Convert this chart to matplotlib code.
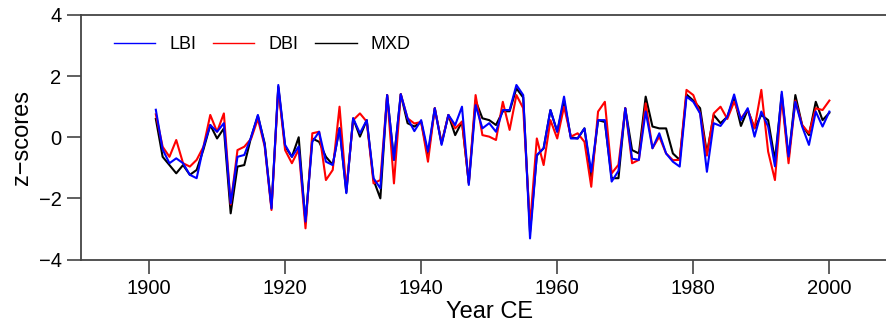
import matplotlib
matplotlib.use("Agg")
import matplotlib.pyplot as plt

plt.rcParams['font.family'] = ['Liberation Sans', 'DejaVu Sans']

years = list(range(1901, 2001))

# LBI (blue)
lbi = [0.90, -0.40, -0.85, -0.69, -0.85, -1.23, -1.34, -0.31, 0.40, 0.18,
       0.46, -2.16, -0.64, -0.58, 0.00, 0.73, -0.25, -2.33, 1.71, -0.25,
       -0.64, -0.30, -2.76, -0.15, 0.18, -0.80, -0.91, 0.29, -1.83, 0.62,
       0.13, 0.56, -1.34, -1.67, 1.38, -0.74, 1.41, 0.62, 0.20, 0.56,
       -0.47, 0.95, -0.25, 0.73, 0.40, 1.00, -1.56, 1.05, 0.29, 0.46,
       0.18, 0.89, 0.89, 1.71, 1.38, -3.31, -0.58, -0.36, 0.89, 0.18,
       1.33, -0.04, -0.04, 0.29, -1.13, 0.56, 0.56, -1.45, -1.10, 0.95,
       -0.70, -0.74, 0.84, -0.36, 0.13, -0.53, -0.80, -0.96, 1.33, 1.16,
       0.78, -1.13, 0.46, 0.37, 0.67, 1.40, 0.56, 0.95, 0.02, 0.84,
       0.35, -0.95, 1.49, -0.63, 1.16, 0.35, -0.25, 0.84, 0.35, 0.84]

# DBI (red)
dbi = [0.75, -0.31, -0.64, -0.09, -0.85, -0.96, -0.74, -0.31, 0.73, 0.18,
       0.78, -2.20, -0.42, -0.31, -0.05, 0.60, -0.30, -2.38, 1.60, -0.42,
       -0.85, -0.40, -2.98, 0.13, 0.18, -1.40, -1.07, 1.00, -1.70, 0.56,
       0.78, 0.51, -1.51, -1.40, 1.38, -1.51, 1.41, 0.62, 0.45, 0.50,
       -0.80, 0.95, -0.20, 0.73, 0.29, 0.51, -1.50, 1.38, 0.07, 0.02,
       -0.09, 1.16, 0.24, 1.38, 0.95, -2.90, -0.04, -0.91, 0.56, -0.04,
       1.00, 0.02, 0.13, -0.15, -1.62, 0.84, 1.16, -1.18, -0.90, 0.95,
       -0.85, -0.74, 1.11, -0.36, 0.02, -0.53, -0.75, -0.74, 1.55, 1.38,
       0.78, -0.60, 0.78, 1.00, 0.60, 1.16, 0.62, 0.90, 0.30, 1.55,
       -0.47, -1.40, 1.30, -0.85, 1.20, 0.40, 0.13, 0.95, 0.89, 1.20]

# MXD (black)
mxd = [0.60, -0.64, -0.91, -1.18, -0.91, -1.23, -1.07, -0.40, 0.40, -0.04,
       0.29, -2.49, -0.96, -0.91, 0.00, 0.70, -0.20, -2.30, 1.65, -0.30,
       -0.64, 0.00, -2.80, -0.04, -0.15, -0.64, -0.90, 0.30, -1.80, 0.62,
       0.02, 0.56, -1.40, -2.00, 1.38, -0.74, 1.41, 0.46, 0.35, 0.50,
       -0.60, 0.95, -0.20, 0.73, 0.07, 0.51, -1.50, 1.20, 0.62, 0.56,
       0.40, 0.85, 0.85, 1.60, 1.30, -3.10, -0.60, -0.36, 0.89, 0.18,
       1.20, 0.00, -0.04, 0.29, -1.30, 0.56, 0.50, -1.34, -1.34, 0.95,
       -0.42, -0.53, 1.33, 0.35, 0.29, 0.29, -0.53, -0.74, 1.40, 1.20,
       0.95, -0.53, 0.73, 0.46, 0.67, 1.30, 0.37, 0.90, 0.29, 0.73,
       0.56, -0.75, 1.40, -0.70, 1.38, 0.40, 0.07, 1.16, 0.56, 0.80]

xticks = [1900, 1920, 1940, 1960, 1980, 2000]
yticks = [-4, -2, 0, 2, 4]

fig = plt.figure(figsize=(8.87, 3.30), dpi=100)
# axes runs a bit past the right edge of the picture, like the original crop
ax = fig.add_axes([81/887, 1 - 259.5/330, (897.4 - 81)/887, (259.5 - 15)/330])

l3, = ax.plot(years, mxd, color='black', lw=1.5)
l2, = ax.plot(years, dbi, color='#ff0000', lw=1.5)
l1, = ax.plot(years, lbi, color='#0000ff', lw=1.5)

ax.set_xlim(1890, 2010)
ax.set_ylim(-4, 4)
ax.set_xticks(xticks)
ax.set_yticks(yticks)
ax.set_yticklabels(['\u22124', '\u22122', '0', '2', '4'])

for s in ['left', 'top', 'bottom']:
    ax.spines[s].set_color('#444444')
    ax.spines[s].set_linewidth(1.3)
ax.spines['right'].set_visible(False)
ax.tick_params(direction='out', length=10, width=1.2, color='#444444',
               labelsize=14.5, pad=4)

ax.set_xlabel('Year CE', fontsize=17, labelpad=2)
ax.set_ylabel('z\u2212scores', fontsize=17, labelpad=4)

lg = ax.legend([l1, l2, l3], ['LBI', 'DBI', 'MXD'], ncol=3, frameon=False,
               fontsize=13, handlelength=2.3, handletextpad=0.8,
               columnspacing=0.9, loc='upper left',
               bbox_to_anchor=(0.02, 0.98))
for h in lg.get_lines():
    h.set_linewidth(1.0)

fig.savefig('out.png', dpi=100)
